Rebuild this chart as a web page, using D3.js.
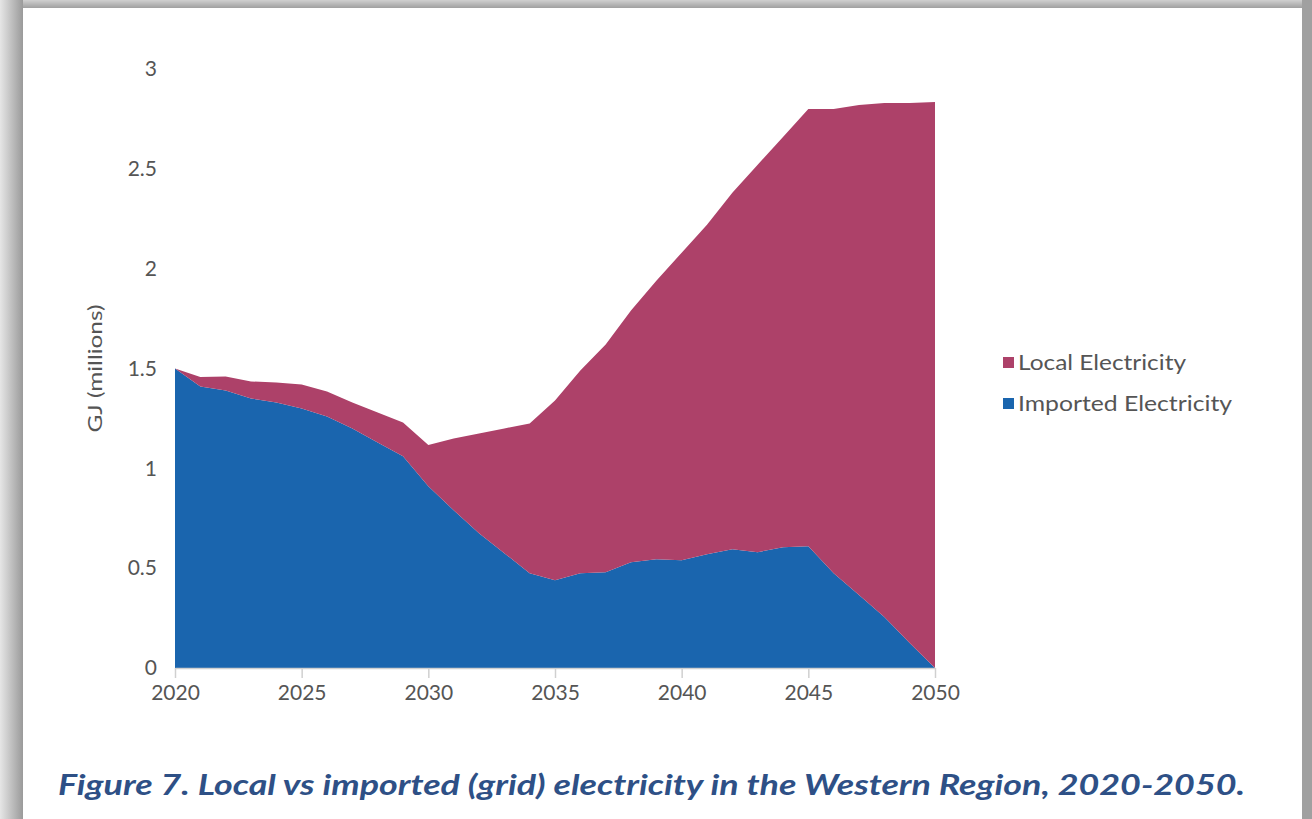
<!DOCTYPE html>
<html>
<head>
<meta charset="utf-8">
<script src="https://cdn.jsdelivr.net/npm/d3@7"></script>
<style>
  body { margin: 0; background: #fff; }
  svg { display: block; }
</style>
</head>
<body>
<svg width="1312" height="819"></svg>
<script>
var years = d3.range(2020, 2051);
// imported (grid) electricity, GJ millions
var imported = [1.50, 1.41, 1.39, 1.35, 1.33, 1.30, 1.26, 1.20, 1.13, 1.06,
                0.91, 0.79, 0.675, 0.575, 0.475, 0.44, 0.475, 0.48, 0.53, 0.545,
                0.54, 0.57, 0.595, 0.58, 0.605, 0.61, 0.475, 0.365, 0.255, 0.125, 0.0];
// total (local + imported)
var total = [1.50, 1.457, 1.46, 1.435, 1.43, 1.42, 1.385, 1.33, 1.28, 1.23,
             1.117, 1.15, 1.175, 1.20, 1.225, 1.34, 1.49, 1.62, 1.79, 1.94,
             2.08, 2.22, 2.38, 2.52, 2.66, 2.80, 2.80, 2.82, 2.83, 2.83, 2.835];
var local = total.map(function(t, i) { return t - imported[i]; });

var seriesNames = ["Imported Electricity", "Local Electricity"];
var legendOrder = ["Local Electricity", "Imported Electricity"];
var colors = { "Imported Electricity": "#1a65ae", "Local Electricity": "#ad4169" };
var yTicks = [0, 0.5, 1, 1.5, 2, 2.5, 3];
var xTicks = [2020, 2025, 2030, 2035, 2040, 2045, 2050];
var caption = "Figure 7. Local vs imported (grid) electricity in the Western Region, 2020-2050.";

var svg = d3.select("svg");
var font = "Lato, 'Open Sans', sans-serif";

// frame / shadow
var defs = svg.append("defs");
var lg = defs.append("linearGradient").attr("id", "lshadow").attr("x1", 0).attr("x2", 1);
lg.append("stop").attr("offset", 0).attr("stop-color", "#e6e6e6");
lg.append("stop").attr("offset", 1).attr("stop-color", "#9a9a9a");
var tg = defs.append("linearGradient").attr("id", "tshadow").attr("x1", 0).attr("x2", 0).attr("y1", 0).attr("y2", 1);
tg.append("stop").attr("offset", 0).attr("stop-color", "#d0d0d0");
tg.append("stop").attr("offset", 1).attr("stop-color", "#a0a0a0");
svg.append("rect").attr("x", 0).attr("y", 0).attr("width", 1312).attr("height", 8).attr("fill", "url(#tshadow)");
svg.append("rect").attr("x", 0).attr("y", 0).attr("width", 23).attr("height", 819).attr("fill", "url(#lshadow)");
svg.append("rect").attr("x", 1302).attr("y", 0).attr("width", 10).attr("height", 819).attr("fill", "#a0a0a0");
svg.append("rect").attr("x", 23).attr("y", 8).attr("width", 1279).attr("height", 811).attr("fill", "#fff");

var margin = { left: 175, top: 69, right: 377, bottom: 151 };
var width = 1312 - margin.left - margin.right;
var height = 819 - margin.top - margin.bottom;

var x = d3.scaleLinear().domain([2020, 2050]).range([0, width]);
var y = d3.scaleLinear().domain([0, 3]).range([height, 0]);

var g = svg.append("g").attr("transform", "translate(" + margin.left + "," + margin.top + ")");

var rows = years.map(function(yr, i) {
  return { year: yr, "Imported Electricity": imported[i], "Local Electricity": local[i] };
});
var stack = d3.stack().keys(seriesNames);
var layers = stack(rows);

var area = d3.area()
  .x(function(d) { return x(d.data.year); })
  .y0(function(d) { return y(d[0]); })
  .y1(function(d) { return y(d[1]); });

g.selectAll("path.layer")
  .data(layers)
  .enter()
  .append("path")
  .attr("class", "layer")
  .attr("fill", function(d) { return colors[d.key]; })
  .attr("d", area);

// x axis
var xAxis = d3.axisBottom(x).tickValues(xTicks).tickFormat(d3.format("d")).tickSize(10).tickSizeOuter(0);
var xg = g.append("g").attr("transform", "translate(0," + height + ")").call(xAxis);
xg.select(".domain").attr("stroke", "#d0d0d0").attr("stroke-width", 1.5);
xg.selectAll(".tick line").attr("stroke", "#d0d0d0").attr("stroke-width", 1.5);
xg.selectAll(".tick text")
  .attr("font-family", font).attr("font-size", 21).attr("fill", "#555")
  .attr("dy", "0.35em").attr("y", 25);

// y axis labels
var yAxis = d3.axisLeft(y).tickValues(yTicks).tickFormat(d3.format("")).tickSize(0).tickPadding(18);
var yg = g.append("g").call(yAxis);
yg.select(".domain").remove();
yg.selectAll(".tick text")
  .attr("font-family", font).attr("font-size", 21).attr("fill", "#555");

svg.append("text")
  .attr("transform", "translate(102," + (margin.top + y(1.5)) + ") rotate(-90)")
  .attr("text-anchor", "middle")
  .attr("font-family", font).attr("font-size", 20).attr("fill", "#555")
  .attr("textLength", 128).attr("lengthAdjust", "spacingAndGlyphs")
  .text("GJ (millions)");

// legend
var legendWidths = { "Local Electricity": 168, "Imported Electricity": 214 };
var leg = svg.append("g").attr("transform", "translate(1003,363)");
legendOrder.forEach(function(name, i) {
  var row = leg.append("g").attr("transform", "translate(0," + (i * 41) + ")");
  row.append("rect").attr("x", 0).attr("y", -6).attr("width", 11).attr("height", 11).attr("fill", colors[name]);
  row.append("text").attr("x", 15).attr("y", 0).attr("dy", "0.35em")
    .attr("font-family", font).attr("font-size", 21).attr("fill", "#555")
    .attr("textLength", legendWidths[name]).attr("lengthAdjust", "spacingAndGlyphs")
    .text(name);
});

// caption
svg.append("text")
  .attr("x", 58).attr("y", 795)
  .attr("font-family", font).attr("font-size", 29).attr("font-weight", "bold").attr("font-style", "italic")
  .attr("fill", "#2e5086")
  .attr("textLength", 1187).attr("lengthAdjust", "spacingAndGlyphs")
  .text(caption);
</script>
</body>
</html>
